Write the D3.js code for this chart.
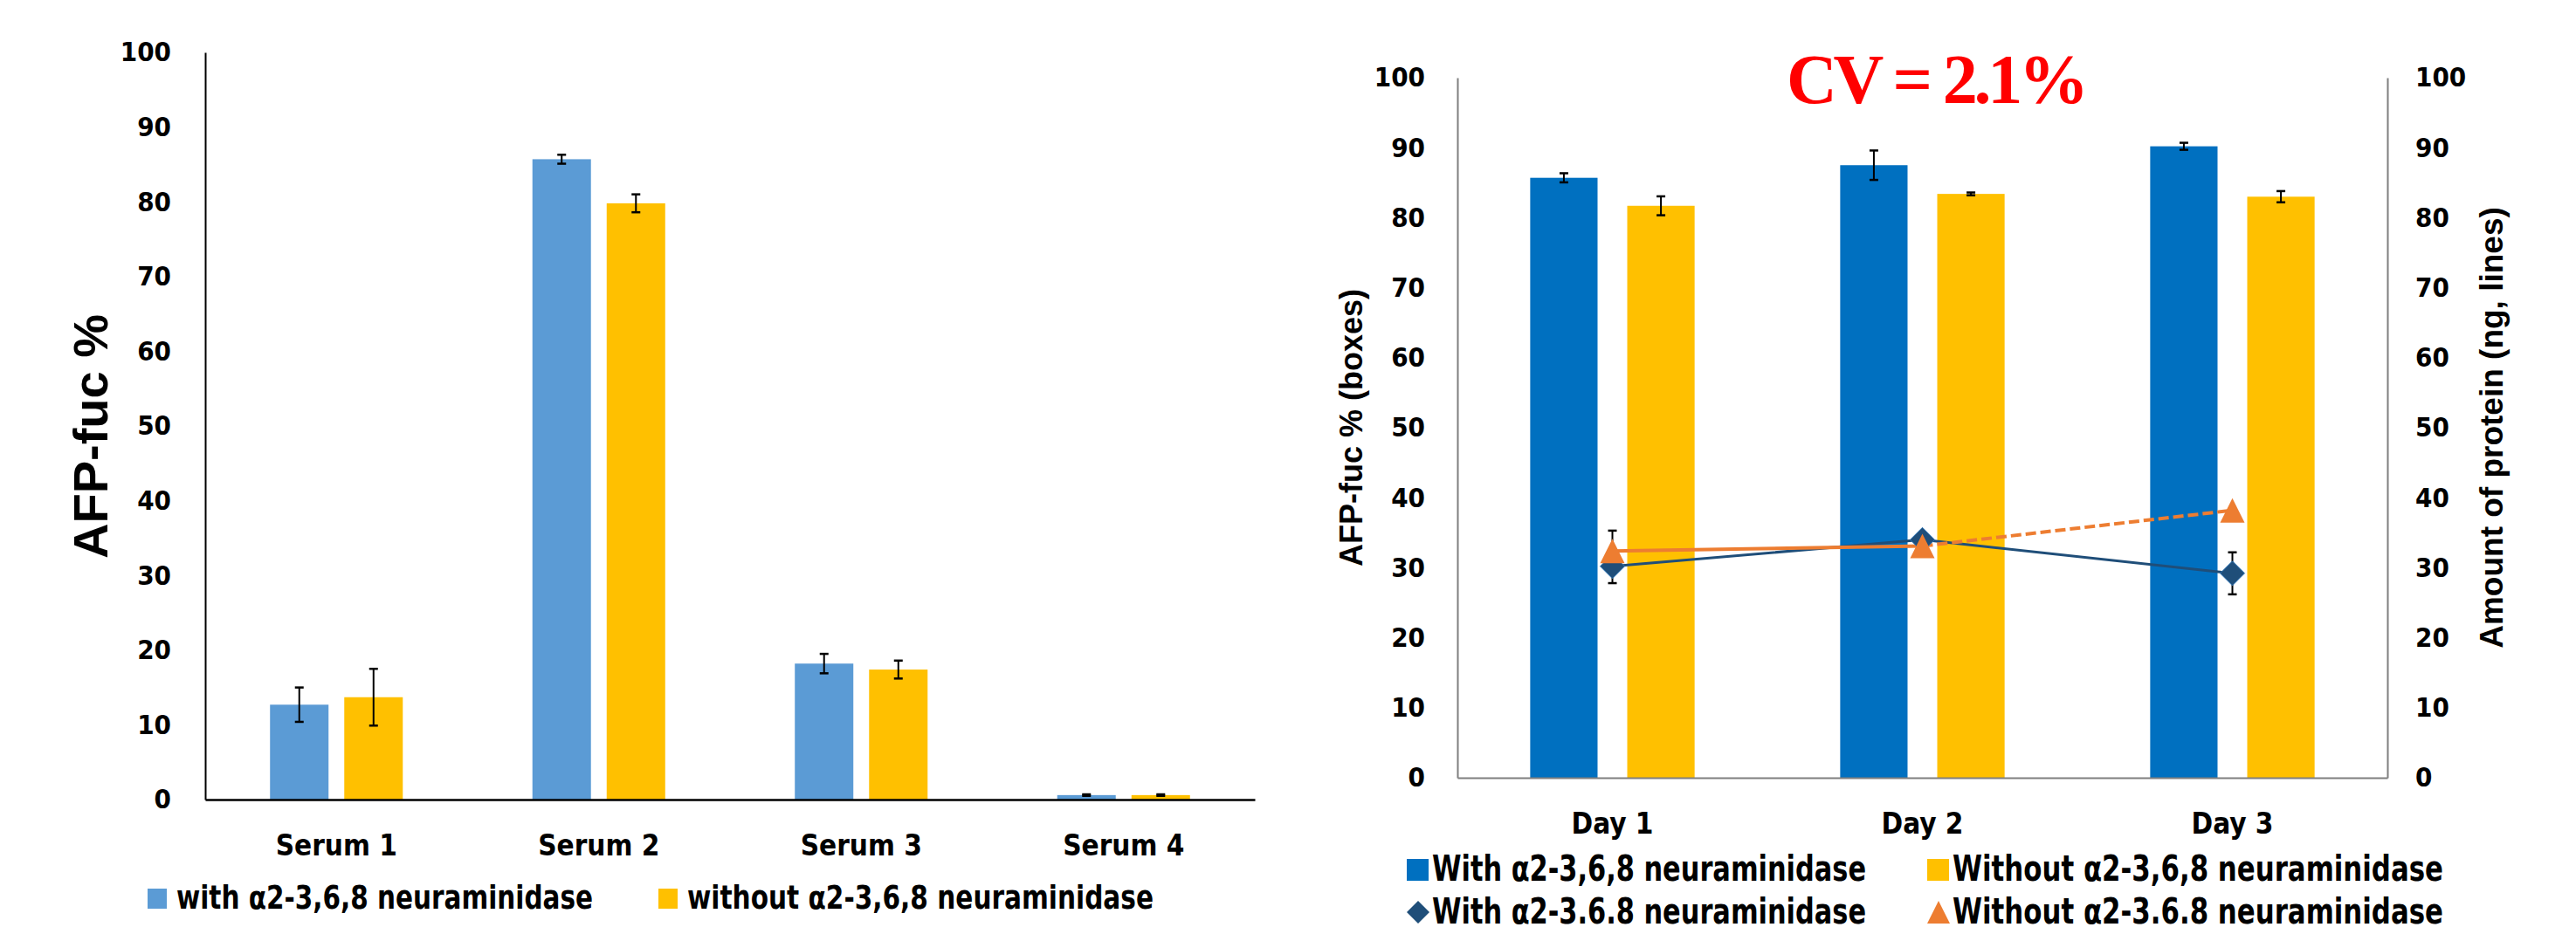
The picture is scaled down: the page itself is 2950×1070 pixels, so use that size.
<!DOCTYPE html>
<html>
<head>
<meta charset="utf-8">
<script src="https://cdn.jsdelivr.net/npm/d3@7"></script>
<style>
  body { margin: 0; background: #fff; }
  .narrow { font-family: "Liberation Sans Narrow", "DejaVu Sans Condensed", "Open Sans", sans-serif; font-weight: bold; }
  .title { font-family: "Liberation Sans", Arial, sans-serif; font-weight: bold; }
</style>
</head>
<body>
<script>
// left chart data
const serums = ['Serum 1', 'Serum 2', 'Serum 3', 'Serum 4'];
const withNeu = [12.7, 85.7, 18.2, 0.6];
const withNeuErr = [2.3, 0.6, 1.3, 0.1];
const withoutNeu = [13.7, 79.8, 17.4, 0.6];
const withoutNeuErr = [3.8, 1.2, 1.2, 0.1];
const leftTicks = [0, 10, 20, 30, 40, 50, 60, 70, 80, 90, 100];

// right chart data
const days = ['Day 1', 'Day 2', 'Day 3'];
const dayWith = [85.7, 87.5, 90.2];
const dayWithErr = [0.65, 2.1, 0.5];
const dayWithout = [81.7, 83.4, 83.0];
const dayWithoutErr = [1.35, 0.2, 0.8];
const proteinWith = [30.2, 34.0, 29.2];
const proteinWithErr = [2.4, 0, 3.0];
const proteinWithout = [32.4, 33.1, 38.2];
const proteinWithoutErr = [2.9, 0, 0];
const rightTicks = [0, 10, 20, 30, 40, 50, 60, 70, 80, 90, 100];

const svg = d3.select('body').append('svg')
  .attr('width', 2950).attr('height', 1070);
svg.append('rect').attr('width', 2950).attr('height', 1070).attr('fill', '#fff');

// custom marker shapes (Excel style)
const diamond = { draw(ctx, size) { const r = Math.sqrt(size) / 2;
  ctx.moveTo(0, -r); ctx.lineTo(r, 0); ctx.lineTo(0, r); ctx.lineTo(-r, 0); ctx.closePath(); } };
const triangle = { draw(ctx, size) { const r = Math.sqrt(size) / 2;
  ctx.moveTo(0, -r); ctx.lineTo(r, r); ctx.lineTo(-r, r); ctx.closePath(); } };

function errorBars(g, pts) {
  pts.filter(p => p.e > 0).forEach(p => {
    g.append('line').attr('x1', p.x).attr('x2', p.x).attr('y1', p.y0).attr('y2', p.y1)
      .attr('stroke', '#000').attr('stroke-width', 2);
    [p.y0, p.y1].forEach(yy => g.append('line').attr('x1', p.x - 5).attr('x2', p.x + 5)
      .attr('y1', yy).attr('y2', yy).attr('stroke', '#000').attr('stroke-width', 2.5));
  });
}

// ---------------- left chart ----------------
{
  const g = svg.append('g');
  const x0 = d3.scaleBand().domain(serums).range([235, 1437]);
  const x1 = d3.scaleBand().domain(['with', 'without']).range([0, x0.bandwidth()])
    .paddingInner(0.212).paddingOuter(0.873);
  const y = d3.scaleLinear().domain([0, 100]).range([916, 60]);
  const series = [
    { key: 'with', vals: withNeu, errs: withNeuErr, color: '#5B9BD5' },
    { key: 'without', vals: withoutNeu, errs: withoutNeuErr, color: '#FFC000' }
  ];
  series.forEach(s => {
    g.selectAll(null).data(serums).enter().append('rect')
      .attr('x', d => x0(d) + x1(s.key))
      .attr('y', (d, i) => y(s.vals[i]))
      .attr('width', x1.bandwidth())
      .attr('height', (d, i) => y(0) - y(s.vals[i]))
      .attr('fill', s.color);
    errorBars(g, serums.map((d, i) => ({
      x: x0(d) + x1(s.key) + x1.bandwidth() / 2, e: s.errs[i],
      y0: y(s.vals[i] + s.errs[i]), y1: y(s.vals[i] - s.errs[i]) })));
  });

  const ya = g.append('g').attr('transform', 'translate(235,0)')
    .call(d3.axisLeft(y).tickValues(leftTicks).tickSize(0).tickPadding(39));
  ya.select('.domain').attr('stroke', '#000').attr('stroke-width', 2);
  ya.selectAll('text').attr('class', 'narrow').attr('font-size', 31).attr('fill', '#000');

  const xa = g.append('g').attr('transform', 'translate(0,916)')
    .call(d3.axisBottom(x0).tickSize(0));
  xa.select('.domain').attr('stroke', '#000').attr('stroke-width', 2.5);
  xa.selectAll('text').attr('class', 'narrow').attr('font-size', 33).attr('fill', '#000')
    .attr('y', 64).attr('dy', 0);

  g.append('text').attr('class', 'title').attr('font-size', 56)
    .attr('text-anchor', 'middle').attr('transform', 'translate(123,500) rotate(-90)')
    .text('AFP-fuc %');

  // legend
  const leg = [
    { x: 169, label: 'with α2-3,6,8 neuraminidase', w: 477, color: '#5B9BD5' },
    { x: 754, label: 'without α2-3,6,8 neuraminidase', w: 534, color: '#FFC000' }
  ];
  leg.forEach(l => {
    g.append('rect').attr('x', l.x).attr('y', 1018).attr('width', 22).attr('height', 23).attr('fill', l.color);
    g.append('text').attr('class', 'narrow').attr('font-size', 38)
      .attr('x', l.x + 33).attr('y', 1041)
      .attr('textLength', l.w).attr('lengthAdjust', 'spacingAndGlyphs').text(l.label);
  });
}

// ---------------- right chart ----------------
{
  const g = svg.append('g');
  const x0 = d3.scaleBand().domain(days).range([1669, 2734]);
  const x1 = d3.scaleBand().domain(['with', 'without']).range([0, x0.bandwidth()])
    .paddingInner(0.306).paddingOuter(0.75);
  const y = d3.scaleLinear().domain([0, 100]).range([891, 89]);
  const y2 = d3.scaleLinear().domain([0, 100]).range([891, 89]);
  const series = [
    { key: 'with', vals: dayWith, errs: dayWithErr, color: '#0070C0' },
    { key: 'without', vals: dayWithout, errs: dayWithoutErr, color: '#FFC000' }
  ];
  series.forEach(s => {
    g.selectAll(null).data(days).enter().append('rect')
      .attr('x', d => x0(d) + x1(s.key))
      .attr('y', (d, i) => y(s.vals[i]))
      .attr('width', x1.bandwidth())
      .attr('height', (d, i) => y(0) - y(s.vals[i]))
      .attr('fill', s.color);
    errorBars(g, days.map((d, i) => ({
      x: x0(d) + x1(s.key) + x1.bandwidth() / 2, e: s.errs[i],
      y0: y(s.vals[i] + s.errs[i]), y1: y(s.vals[i] - s.errs[i]) })));
  });

  const cx = d => x0(d) + x0.bandwidth() / 2;
  const line = d3.line().x(d => d.x).y(d => d.y);
  const ptsWith = days.map((d, i) => ({ x: cx(d), y: y2(proteinWith[i]) }));
  const ptsWithout = days.map((d, i) => ({ x: cx(d), y: y2(proteinWithout[i]) }));

  errorBars(g, days.map((d, i) => ({ x: cx(d), e: proteinWithoutErr[i],
    y0: y2(proteinWithout[i] + proteinWithoutErr[i]), y1: y2(proteinWithout[i] - proteinWithoutErr[i]) })));
  errorBars(g, days.map((d, i) => ({ x: cx(d), e: proteinWithErr[i],
    y0: y2(proteinWith[i] + proteinWithErr[i]), y1: y2(proteinWith[i] - proteinWithErr[i]) })));

  g.append('path').attr('d', line(ptsWith)).attr('fill', 'none')
    .attr('stroke', '#1F4E79').attr('stroke-width', 3);
  g.append('path').attr('d', line(ptsWithout.slice(0, 2))).attr('fill', 'none')
    .attr('stroke', '#ED7D31').attr('stroke-width', 4);
  g.append('path').attr('d', line(ptsWithout.slice(1))).attr('fill', 'none')
    .attr('stroke', '#ED7D31').attr('stroke-width', 4).attr('stroke-dasharray', '12,5');

  g.selectAll(null).data(ptsWith).enter().append('path')
    .attr('transform', d => `translate(${d.x},${d.y})`)
    .attr('d', d3.symbol().type(diamond).size(28 * 28))
    .attr('fill', '#1F4E79').attr('stroke', '#2E75B6').attr('stroke-width', 1);
  g.selectAll(null).data(ptsWithout).enter().append('path')
    .attr('transform', d => `translate(${d.x},${d.y})`)
    .attr('d', d3.symbol().type(triangle).size(28 * 28))
    .attr('fill', '#ED7D31');

  const ya = g.append('g').attr('transform', 'translate(1669,0)')
    .call(d3.axisLeft(y).tickValues(rightTicks).tickSize(0).tickPadding(37));
  ya.select('.domain').attr('stroke', '#7F7F7F').attr('stroke-width', 2);
  ya.selectAll('text').attr('class', 'narrow').attr('font-size', 31).attr('fill', '#000');

  const yb = g.append('g').attr('transform', 'translate(2734,0)')
    .call(d3.axisRight(y2).tickValues(rightTicks).tickSize(0).tickPadding(32));
  yb.select('.domain').attr('stroke', '#7F7F7F').attr('stroke-width', 2);
  yb.selectAll('text').attr('class', 'narrow').attr('font-size', 31).attr('fill', '#000');

  const xa = g.append('g').attr('transform', 'translate(0,891)')
    .call(d3.axisBottom(x0).tickSize(0));
  xa.select('.domain').attr('stroke', '#7F7F7F').attr('stroke-width', 2);
  xa.selectAll('text').attr('class', 'narrow').attr('font-size', 33).attr('fill', '#000')
    .attr('y', 64).attr('dy', 0);

  g.append('text').attr('class', 'title').attr('font-size', 36)
    .attr('text-anchor', 'middle').attr('transform', 'translate(1560,490) rotate(-90)')
    .text('AFP-fuc % (boxes)');
  g.append('text').attr('class', 'title').attr('font-size', 37)
    .attr('text-anchor', 'middle').attr('transform', 'translate(2866,490) rotate(-90)')
    .text('Amount of protein (ng, lines)');

  g.append('text').attr('x', 2219).attr('y', 118).attr('text-anchor', 'middle')
    .attr('font-family', '"Liberation Serif", "Times New Roman", serif').attr('font-weight', 'bold')
    .attr('font-size', 80).attr('fill', '#FF0000')
    .attr('textLength', 346).attr('lengthAdjust', 'spacing').text('CV = 2.1%');

  // legend
  const leg = [
    { x: 1611, y: 996, shape: 'rect', color: '#0070C0', label: 'With α2-3,6,8 neuraminidase', w: 497 },
    { x: 2207, y: 996, shape: 'rect', color: '#FFC000', label: 'Without α2-3,6,8 neuraminidase', w: 562 },
    { x: 1611, y: 1045, shape: diamond, color: '#1F4E79', label: 'With α2-3.6.8 neuraminidase', w: 497 },
    { x: 2207, y: 1045, shape: triangle, color: '#ED7D31', label: 'Without α2-3.6.8 neuraminidase', w: 562 }
  ];
  leg.forEach(l => {
    if (l.shape === 'rect') {
      g.append('rect').attr('x', l.x).attr('y', l.y - 12).attr('width', 25).attr('height', 25).attr('fill', l.color);
    } else {
      g.append('path').attr('transform', `translate(${l.x + 13},${l.y})`)
        .attr('d', d3.symbol().type(l.shape).size(26 * 26)).attr('fill', l.color);
    }
    g.append('text').attr('class', 'narrow').attr('font-size', 40)
      .attr('x', l.x + 29).attr('y', l.y + 13)
      .attr('textLength', l.w).attr('lengthAdjust', 'spacingAndGlyphs').text(l.label);
  });
}
</script>
</body>
</html>
